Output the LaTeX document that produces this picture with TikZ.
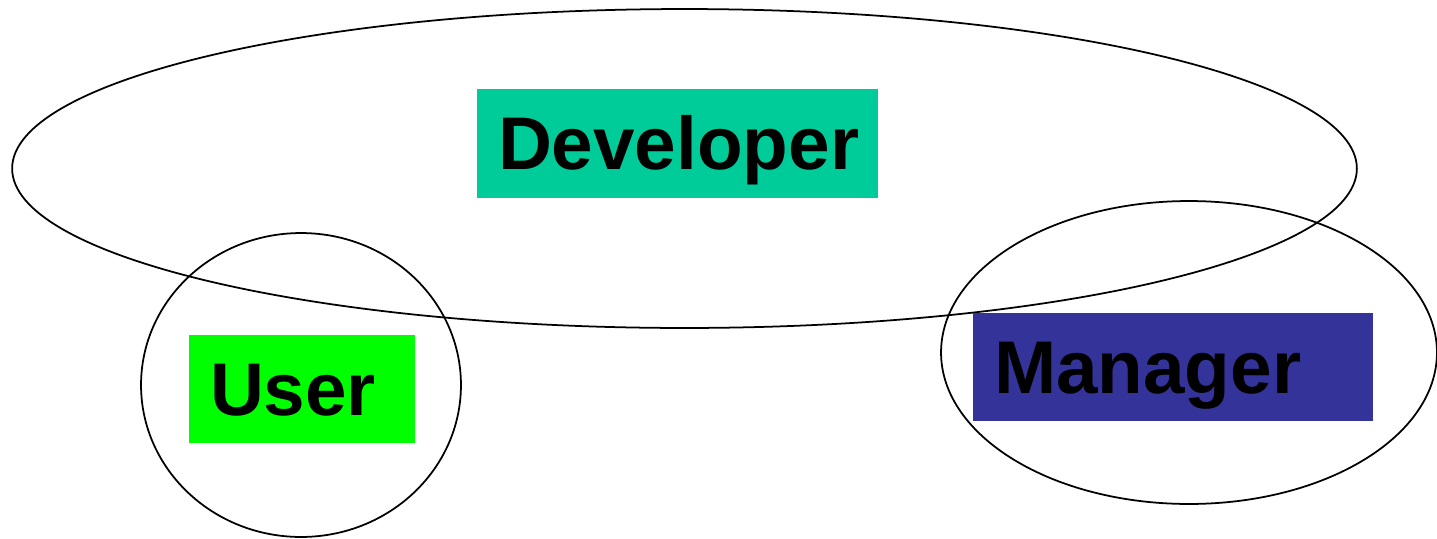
\documentclass[tikz,border=0pt]{standalone}
\usepackage{fontspec}
\setmainfont{Liberation Sans}
\usepackage{tikz}
\usetikzlibrary{shapes.geometric, positioning}
\definecolor{devgreen}{rgb}{0,0.8,0.6}
\definecolor{usergreen}{rgb}{0,1,0}
\definecolor{mgrblue}{rgb}{0.2,0.2,0.6}

\begin{document}
\begin{tikzpicture}[x=0.02cm,y=-0.02cm,line width=1pt]
  \tikzstyle{group}=[ellipse,draw=black,inner sep=0pt]
  \tikzstyle{role}=[rectangle,inner xsep=0.42cm,inner ysep=0pt,
                    font=\fontsize{42.5}{48}\selectfont\bfseries,
                    text height=30pt,text depth=0pt,text=black]
  \useasboundingbox (0,0) rectangle (1437,538);

  \node[group,minimum width=26.9cm,minimum height=6.38cm] (devset) at (684.5,168.5) {};
  \node[group,minimum width=6.4cm,minimum height=6.08cm]  (userset) at (301,385) {};
  \node[group,minimum width=9.92cm,minimum height=6.06cm] (mgrset) at (1189,352.5) {};

  \node[role,fill=devgreen,text width=7.18cm,align=center,minimum height=2.18cm] (dev) at (677.5,143.5) {Developer};
  \node[role,fill=usergreen,text width=3.68cm,align=left,minimum height=2.16cm] (user) at (302,389) {User};
  \node[role,fill=mgrblue,text width=7.16cm,align=left,minimum height=2.16cm] (mgr) at (1173,367) {Manager};
\end{tikzpicture}
\end{document}
